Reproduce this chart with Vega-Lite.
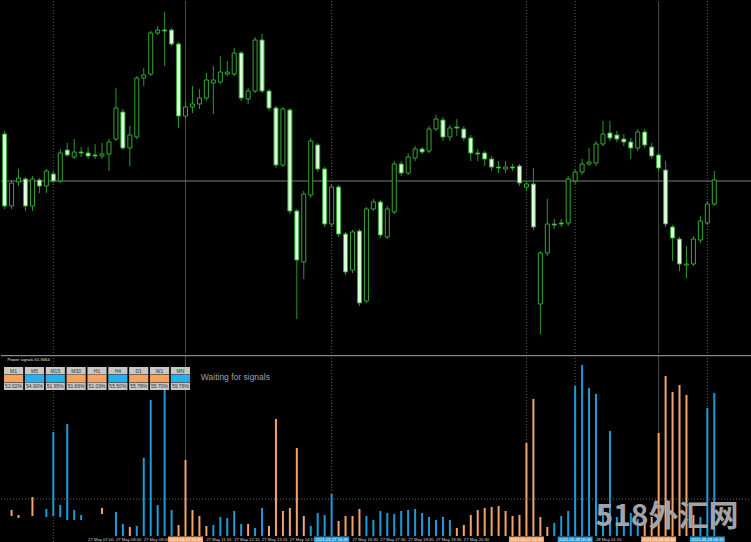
{
  "$schema": "https://vega.github.io/schema/vega-lite/v6.json",
  "background": "#000000",
  "padding": 0,
  "spacing": 0,
  "config": {"view": {"stroke": null}, "text": {"font": "Liberation Sans"}},
  "datasets": {
    "candles": [
      {"i":0,"o":267,"c":195,"h":270,"l":192},{"i":1,"o":195,"c":218,"h":221,"l":192},{"i":2,"o":219,"c":223,"h":232,"l":215},
      {"i":3,"o":222,"c":195,"h":224,"l":190},{"i":4,"o":195,"c":222,"h":225,"l":190},{"i":5,"o":221,"c":215,"h":223,"l":208},
      {"i":6,"o":215,"c":230,"h":232,"l":208},{"i":7,"o":227,"c":220,"h":230,"l":218},{"i":8,"o":220,"c":248,"h":252,"l":218},
      {"i":9,"o":251,"c":246,"h":258,"l":244},{"i":10,"o":244,"c":249,"h":262,"l":242},{"i":11,"o":249,"c":248,"h":254,"l":244},
      {"i":12,"o":248,"c":245,"h":254,"l":242},{"i":13,"o":246,"c":245,"h":257,"l":242},{"i":14,"o":245,"c":247,"h":258,"l":242},
      {"i":15,"o":247,"c":259,"h":262,"l":230},{"i":16,"o":262,"c":293,"h":313,"l":260},{"i":17,"o":289,"c":253,"h":292,"l":251},
      {"i":18,"o":253,"c":266,"h":275,"l":235},{"i":19,"o":264,"c":323,"h":325,"l":262},{"i":20,"o":323,"c":326,"h":333,"l":315},
      {"i":21,"o":327,"c":368,"h":370,"l":325},{"i":22,"o":368,"c":371,"h":375,"l":366},{"i":23,"o":371,"c":370,"h":389,"l":335},
      {"i":24,"o":371,"c":357,"h":373,"l":355},{"i":25,"o":357,"c":285,"h":359,"l":273},{"i":26,"o":285,"c":294,"h":300,"l":282},
      {"i":27,"o":294,"c":297,"h":315,"l":288},{"i":28,"o":297,"c":303,"h":312,"l":292},{"i":29,"o":303,"c":321,"h":328,"l":300},
      {"i":30,"o":318,"c":321,"h":335,"l":287},{"i":31,"o":319,"c":329,"h":345,"l":317},{"i":32,"o":327,"c":329,"h":340,"l":325},
      {"i":33,"o":327,"c":348,"h":353,"l":325},{"i":34,"o":348,"c":303,"h":350,"l":300},{"i":35,"o":302,"c":310,"h":313,"l":297},
      {"i":36,"o":310,"c":361,"h":364,"l":308},{"i":37,"o":361,"c":310,"h":367,"l":308},{"i":38,"o":310,"c":293,"h":312,"l":290},
      {"i":39,"o":293,"c":236,"h":295,"l":233},{"i":40,"o":236,"c":292,"h":294,"l":234},{"i":41,"o":291,"c":190,"h":293,"l":187},
      {"i":42,"o":190,"c":141,"h":192,"l":82},{"i":43,"o":139,"c":207,"h":210,"l":122},{"i":44,"o":206,"c":260,"h":263,"l":203},
      {"i":45,"o":256,"c":232,"h":258,"l":229},{"i":46,"o":232,"c":177,"h":234,"l":174},{"i":47,"o":177,"c":214,"h":217,"l":174},
      {"i":48,"o":214,"c":167,"h":216,"l":164},{"i":49,"o":167,"c":129,"h":169,"l":126},{"i":50,"o":131,"c":169,"h":171,"l":128},
      {"i":51,"o":170,"c":98,"h":172,"l":95},{"i":52,"o":100,"c":192,"h":194,"l":98},{"i":53,"o":192,"c":199,"h":202,"l":190},
      {"i":54,"o":199,"c":166,"h":201,"l":163},{"i":55,"o":164,"c":192,"h":195,"l":162},{"i":56,"o":189,"c":237,"h":240,"l":187},
      {"i":57,"o":237,"c":228,"h":240,"l":225},{"i":58,"o":228,"c":244,"h":248,"l":226},{"i":59,"o":243,"c":252,"h":255,"l":240},
      {"i":60,"o":252,"c":249,"h":254,"l":247},{"i":61,"o":250,"c":272,"h":275,"l":248},{"i":62,"o":272,"c":282,"h":286,"l":270},
      {"i":63,"o":281,"c":264,"h":284,"l":260},{"i":64,"o":264,"c":273,"h":276,"l":260},{"i":65,"o":274,"c":273,"h":282,"l":265},
      {"i":66,"o":272,"c":263,"h":275,"l":260},{"i":67,"o":263,"c":248,"h":266,"l":240},{"i":68,"o":248,"c":247,"h":252,"l":240},
      {"i":69,"o":248,"c":242,"h":250,"l":235},{"i":70,"o":242,"c":234,"h":245,"l":230},{"i":71,"o":234,"c":233,"h":240,"l":228},
      {"i":72,"o":232,"c":234,"h":240,"l":228},{"i":73,"o":234,"c":233,"h":237,"l":230},{"i":74,"o":235,"c":218,"h":237,"l":215},
      {"i":75,"o":214,"c":217,"h":220,"l":210},{"i":76,"o":217,"c":174,"h":233,"l":171},{"i":77,"o":97,"c":148,"h":150,"l":67},
      {"i":78,"o":148,"c":177,"h":202,"l":145},{"i":79,"o":177,"c":176,"h":182,"l":172},{"i":80,"o":178,"c":177,"h":182,"l":174},
      {"i":81,"o":178,"c":222,"h":225,"l":175},{"i":82,"o":220,"c":229,"h":232,"l":217},{"i":83,"o":229,"c":237,"h":242,"l":226},
      {"i":84,"o":237,"c":239,"h":253,"l":235},{"i":85,"o":238,"c":257,"h":260,"l":235},{"i":86,"o":257,"c":267,"h":280,"l":255},
      {"i":87,"o":268,"c":263,"h":280,"l":260},{"i":88,"o":266,"c":262,"h":270,"l":259},{"i":89,"o":262,"c":259,"h":267,"l":255},
      {"i":90,"o":259,"c":253,"h":263,"l":242},{"i":91,"o":253,"c":269,"h":272,"l":250},{"i":92,"o":269,"c":256,"h":272,"l":253},
      {"i":93,"o":254,"c":245,"h":258,"l":242},{"i":94,"o":246,"c":233,"h":248,"l":230},{"i":95,"o":231,"c":177,"h":240,"l":174},
      {"i":96,"o":174,"c":163,"h":176,"l":140},{"i":97,"o":162,"c":137,"h":164,"l":130},{"i":98,"o":136,"c":137,"h":155,"l":123},
      {"i":99,"o":137,"c":162,"h":165,"l":135},{"i":100,"o":161,"c":180,"h":185,"l":158},{"i":101,"o":178,"c":197,"h":200,"l":176},
      {"i":102,"o":197,"c":221,"h":230,"l":195}
    ],
    "bars": [
      {"i":1,"v":26,"b":20,"s":"sell"},{"i":2,"v":21,"b":18,"s":"sell"},{"i":4,"v":39,"b":20,"s":"sell"},
      {"i":6,"v":27,"b":19,"s":"buy"},{"i":7,"v":104,"b":20,"s":"buy"},{"i":8,"v":31,"b":19,"s":"buy"},
      {"i":9,"v":112,"b":16,"s":"buy"},{"i":10,"v":26,"b":16,"s":"buy"},{"i":11,"v":21,"b":16,"s":"buy"},
      {"i":14,"v":28,"b":22,"s":"sell"},
      {"i":16,"v":24,"b":0,"s":"buy"},{"i":17,"v":12,"b":0,"s":"buy"},{"i":18,"v":9,"b":0,"s":"sell"},
      {"i":19,"v":10,"b":0,"s":"buy"},{"i":20,"v":78,"b":0,"s":"buy"},{"i":21,"v":136,"b":0,"s":"buy"},
      {"i":22,"v":31,"b":0,"s":"buy"},{"i":23,"v":147,"b":0,"s":"buy"},{"i":24,"v":26,"b":0,"s":"buy"},
      {"i":25,"v":11,"b":0,"s":"sell"},{"i":26,"v":76,"b":0,"s":"sell"},{"i":27,"v":26,"b":0,"s":"sell"},
      {"i":28,"v":20,"b":0,"s":"sell"},{"i":29,"v":10,"b":0,"s":"sell"},{"i":30,"v":11,"b":0,"s":"buy"},
      {"i":31,"v":19,"b":0,"s":"buy"},{"i":32,"v":18,"b":0,"s":"buy"},{"i":33,"v":25,"b":0,"s":"buy"},
      {"i":34,"v":12,"b":0,"s":"buy"},{"i":35,"v":12,"b":0,"s":"sell"},{"i":36,"v":8,"b":0,"s":"buy"},
      {"i":37,"v":28,"b":0,"s":"buy"},{"i":38,"v":10,"b":0,"s":"sell"},{"i":39,"v":117,"b":0,"s":"sell"},
      {"i":40,"v":25,"b":0,"s":"sell"},{"i":41,"v":28,"b":0,"s":"sell"},{"i":42,"v":88,"b":0,"s":"sell"},
      {"i":43,"v":20,"b":0,"s":"sell"},{"i":44,"v":10,"b":0,"s":"buy"},{"i":45,"v":23,"b":0,"s":"buy"},
      {"i":46,"v":21,"b":0,"s":"buy"},{"i":47,"v":42,"b":0,"s":"buy"},{"i":48,"v":15,"b":0,"s":"sell"},
      {"i":49,"v":20,"b":0,"s":"sell"},{"i":50,"v":20,"b":0,"s":"sell"},{"i":51,"v":27,"b":0,"s":"sell"},
      {"i":52,"v":20,"b":0,"s":"buy"},{"i":53,"v":16,"b":0,"s":"buy"},{"i":54,"v":25,"b":0,"s":"buy"},
      {"i":55,"v":23,"b":0,"s":"buy"},{"i":56,"v":22,"b":0,"s":"buy"},{"i":57,"v":25,"b":0,"s":"buy"},
      {"i":58,"v":26,"b":0,"s":"buy"},{"i":59,"v":27,"b":0,"s":"buy"},{"i":60,"v":23,"b":0,"s":"buy"},
      {"i":61,"v":19,"b":0,"s":"buy"},{"i":62,"v":16,"b":0,"s":"buy"},{"i":63,"v":19,"b":0,"s":"buy"},
      {"i":64,"v":16,"b":0,"s":"buy"},{"i":65,"v":8,"b":0,"s":"sell"},{"i":66,"v":11,"b":0,"s":"sell"},
      {"i":67,"v":21,"b":0,"s":"sell"},{"i":68,"v":26,"b":0,"s":"sell"},{"i":69,"v":28,"b":0,"s":"sell"},
      {"i":70,"v":29,"b":0,"s":"sell"},{"i":71,"v":30,"b":0,"s":"sell"},{"i":72,"v":25,"b":0,"s":"sell"},
      {"i":73,"v":20,"b":0,"s":"sell"},{"i":74,"v":21,"b":0,"s":"sell"},{"i":75,"v":93,"b":0,"s":"sell"},
      {"i":76,"v":137,"b":0,"s":"sell"},{"i":77,"v":19,"b":0,"s":"sell"},{"i":78,"v":9,"b":0,"s":"sell"},
      {"i":79,"v":13,"b":0,"s":"buy"},{"i":80,"v":20,"b":0,"s":"buy"},{"i":81,"v":25,"b":0,"s":"buy"},
      {"i":82,"v":150,"b":0,"s":"buy"},{"i":83,"v":171,"b":0,"s":"buy"},{"i":84,"v":148,"b":0,"s":"buy"},
      {"i":85,"v":142,"b":0,"s":"buy"},{"i":86,"v":29,"b":0,"s":"buy"},{"i":87,"v":105,"b":0,"s":"buy"},
      {"i":88,"v":19,"b":0,"s":"buy"},{"i":89,"v":15,"b":0,"s":"buy"},{"i":90,"v":23,"b":0,"s":"buy"},
      {"i":91,"v":17,"b":0,"s":"buy"},{"i":92,"v":13,"b":0,"s":"sell"},{"i":93,"v":19,"b":0,"s":"sell"},
      {"i":94,"v":103,"b":0,"s":"sell"},{"i":95,"v":160,"b":0,"s":"sell"},{"i":96,"v":144,"b":0,"s":"sell"},
      {"i":97,"v":151,"b":0,"s":"sell"},{"i":98,"v":141,"b":0,"s":"sell"},{"i":99,"v":21,"b":0,"s":"sell"},
      {"i":100,"v":19,"b":0,"s":"buy"},{"i":101,"v":128,"b":0,"s":"buy"},{"i":102,"v":143,"b":0,"s":"buy"}
    ],
    "vdot": [{"i":7},{"i":47},{"i":75},{"i":82},{"i":101}],
    "vsolid": [{"i":26},{"i":94}],
    "events": [
      {"i":26,"s":"sell","t":"2021.05.27 10:30"},{"i":47,"s":"buy","t":"2021.05.27 15:45"},
      {"i":75,"s":"sell","t":"2021.05.27 22:45"},{"i":82,"s":"buy","t":"2021.05.28 00:30"},
      {"i":94,"s":"sell","t":"2021.05.28 03:30"},{"i":101,"s":"buy","t":"2021.05.28 05:15"}
    ],
    "times": [
      {"i":12,"t":"27 May 07:00"},{"i":16,"t":"27 May 08:00"},{"i":20,"t":"27 May 09:00"},
      {"i":29,"t":"27 May 11:15"},{"i":33,"t":"27 May 12:15"},{"i":37,"t":"27 May 13:15"},{"i":41,"t":"27 May 14:15"},
      {"i":50,"t":"27 May 16:30"},{"i":54,"t":"27 May 17:30"},{"i":58,"t":"27 May 18:30"},{"i":62,"t":"27 May 19:30"},
      {"i":66,"t":"27 May 20:30"},{"i":85,"t":"28 May 01:15"}
    ],
    "table": [
      {"tf":"M1","s":"sell","pct":"52.02%"},{"tf":"M5","s":"buy","pct":"54.90%"},{"tf":"M15","s":"buy","pct":"51.95%"},
      {"tf":"M30","s":"sell","pct":"51.66%"},{"tf":"H1","s":"sell","pct":"51.03%"},{"tf":"H4","s":"buy","pct":"55.50%"},
      {"tf":"D1","s":"sell","pct":"55.78%"},{"tf":"W1","s":"sell","pct":"55.70%"},{"tf":"MN","s":"buy","pct":"59.78%"}
    ]
  },
  "vconcat": [
    {
      "width": 751,
      "height": 352,
      "layer": [
        {"data": {"name": "vdot"}, "mark": {"type": "rule", "strokeDash": [1, 2], "color": "#5e5e5e", "strokeWidth": 1},
         "encoding": {"x": {"field": "i", "type": "quantitative", "scale": {"domain": [0.2, 106.7], "nice": false, "zero": false}, "axis": null}}},
        {"data": {"name": "vsolid"}, "mark": {"type": "rule", "color": "#4a4a4a", "strokeWidth": 1},
         "encoding": {"x": {"field": "i", "type": "quantitative", "axis": null}}},
        {"data": {"values": [{}]}, "mark": {"type": "rule", "color": "#7c7c7c", "strokeWidth": 1},
         "encoding": {"y": {"datum": 220, "type": "quantitative", "scale": {"domain": [48, 400], "nice": false, "zero": false}, "axis": null}}},
        {"data": {"name": "candles"}, "mark": {"type": "rule", "color": "#2c9a2c", "strokeWidth": 1, "clip": true},
         "encoding": {"x": {"field": "i", "type": "quantitative", "axis": null}, "y": {"field": "h", "type": "quantitative", "axis": null}, "y2": {"field": "l"}}},
        {"data": {"name": "candles"}, "mark": {"type": "bar", "size": 4, "stroke": "#34a834", "strokeWidth": 1, "clip": true},
         "encoding": {
           "x": {"field": "i", "type": "quantitative", "axis": null},
           "y": {"field": "o", "type": "quantitative", "axis": null},
           "y2": {"field": "c"},
           "fill": {"condition": {"test": "datum.c < datum.o", "value": "#dcffdc"}, "value": "#000000"}
         }}
      ]
    },
    {
      "width": 751,
      "height": 190,
      "layer": [
        {
          "layer": [
            {"data": {"name": "vdot"}, "mark": {"type": "rule", "strokeDash": [1, 2], "color": "#5e5e5e", "strokeWidth": 1},
             "encoding": {"x": {"field": "i", "type": "quantitative", "scale": {"domain": [0.2, 106.7], "nice": false, "zero": false}, "axis": null}}},
            {"data": {"name": "vsolid"}, "mark": {"type": "rule", "color": "#4a4a4a", "strokeWidth": 1},
             "encoding": {"x": {"field": "i", "type": "quantitative", "axis": null}}},
            {"data": {"values": [{}]}, "mark": {"type": "rule", "color": "#6a6a6a", "strokeDash": [1, 2], "strokeWidth": 1},
             "encoding": {"y": {"datum": 37, "type": "quantitative", "scale": {"domain": [-9, 181], "nice": false, "zero": false}, "axis": null}}},
            {"data": {"values": [{}]}, "mark": {"type": "rule", "color": "#a8a8a8", "strokeWidth": 1},
             "encoding": {"y": {"datum": 180.3, "type": "quantitative", "axis": null}}},
            {"data": {"name": "bars"}, "mark": {"type": "rule", "strokeWidth": 2},
             "encoding": {
               "x": {"field": "i", "type": "quantitative", "axis": null},
               "y": {"field": "v", "type": "quantitative", "axis": null},
               "y2": {"field": "b"},
               "color": {"field": "s", "type": "nominal", "scale": {"domain": ["buy", "sell"], "range": ["#1f9ad8", "#f2a46a"]}, "legend": null}
             }},
            {"data": {"name": "times"}, "mark": {"type": "text", "align": "left", "baseline": "middle", "fontSize": 4.2, "color": "#d4d4d4"},
             "encoding": {
               "x": {"field": "i", "type": "quantitative", "axis": null},
               "y": {"datum": -3.8, "type": "quantitative", "axis": null},
               "text": {"field": "t"}
             }},
            {"data": {"name": "events"}, "mark": {"type": "bar", "size": 35},
             "encoding": {
               "x": {"field": "i", "type": "quantitative", "axis": null},
               "y": {"datum": -0.5, "type": "quantitative", "axis": null},
               "y2": {"datum": -7},
               "color": {"field": "s", "type": "nominal", "legend": null}
             }},
            {"data": {"name": "events"}, "mark": {"type": "text", "align": "center", "baseline": "middle", "fontSize": 4.2, "color": "#ffffff"},
             "encoding": {
               "x": {"field": "i", "type": "quantitative", "axis": null},
               "y": {"datum": -3.8, "type": "quantitative", "axis": null},
               "text": {"field": "t"}
             }},
            {"data": {"values": [{"t": "Power signals 61.9464"}]}, "mark": {"type": "text", "align": "left", "baseline": "middle", "fontSize": 4.2, "color": "#e0e0e0"},
             "encoding": {
               "x": {"datum": 0.4, "type": "quantitative", "axis": null},
               "y": {"datum": 176, "type": "quantitative", "axis": null},
               "text": {"field": "t"}
             }},
            {"data": {"values": [{"t": "Waiting for signals"}]}, "mark": {"type": "text", "align": "left", "baseline": "middle", "fontSize": 8.5, "color": "#a0a0a0"},
             "encoding": {
               "x": {"datum": 28.2, "type": "quantitative", "axis": null},
               "y": {"datum": 159.5, "type": "quantitative", "axis": null},
               "text": {"field": "t"}
             }},
            {"data": {"values": [{"t": "518外汇网"}]}, "mark": {"type": "text", "align": "center", "baseline": "middle", "fontSize": 30, "fontWeight": "bold", "font": "Noto Sans CJK SC", "color": "#a3a3a3"},
             "encoding": {
               "x": {"datum": 95.2, "type": "quantitative", "axis": null},
               "y": {"datum": 19, "type": "quantitative", "axis": null},
               "text": {"field": "t"}
             }}
          ]
        },
        {
          "data": {"name": "table"},
          "encoding": {
            "x": {"field": "tf", "type": "nominal", "scale": {"type": "band", "domain": ["M1", "M5", "M15", "M30", "H1", "H4", "D1", "W1", "MN"], "range": [3, 189], "paddingInner": 0.08, "paddingOuter": 0}, "axis": null}
          },
          "layer": [
            {"mark": {"type": "rect", "color": "#c8c8c8"},
             "encoding": {"y": {"datum": "tf", "type": "nominal", "scale": {"type": "band", "domain": ["tf", "sig", "pct"], "range": [12, 35], "paddingInner": 0.05, "paddingOuter": 0}, "axis": null}}},
            {"mark": {"type": "rect", "color": "#c8c8c8"},
             "encoding": {"y": {"datum": "pct", "type": "nominal", "axis": null}}},
            {"mark": {"type": "rect"},
             "encoding": {
               "y": {"datum": "sig", "type": "nominal", "axis": null},
               "fill": {"condition": {"test": "datum.s == 'buy'", "value": "#22b2ee"}, "value": "#f3a462"}
             }},
            {"mark": {"type": "text", "fontSize": 5, "color": "#303030", "baseline": "middle"},
             "encoding": {"y": {"datum": "tf", "type": "nominal", "axis": null}, "text": {"field": "tf"}}},
            {"mark": {"type": "text", "fontSize": 5, "color": "#303030", "baseline": "middle"},
             "encoding": {"y": {"datum": "pct", "type": "nominal", "axis": null}, "text": {"field": "pct"}}}
          ]
        }
      ],
      "resolve": {"scale": {"x": "independent", "y": "independent"}}
    }
  ]
}
